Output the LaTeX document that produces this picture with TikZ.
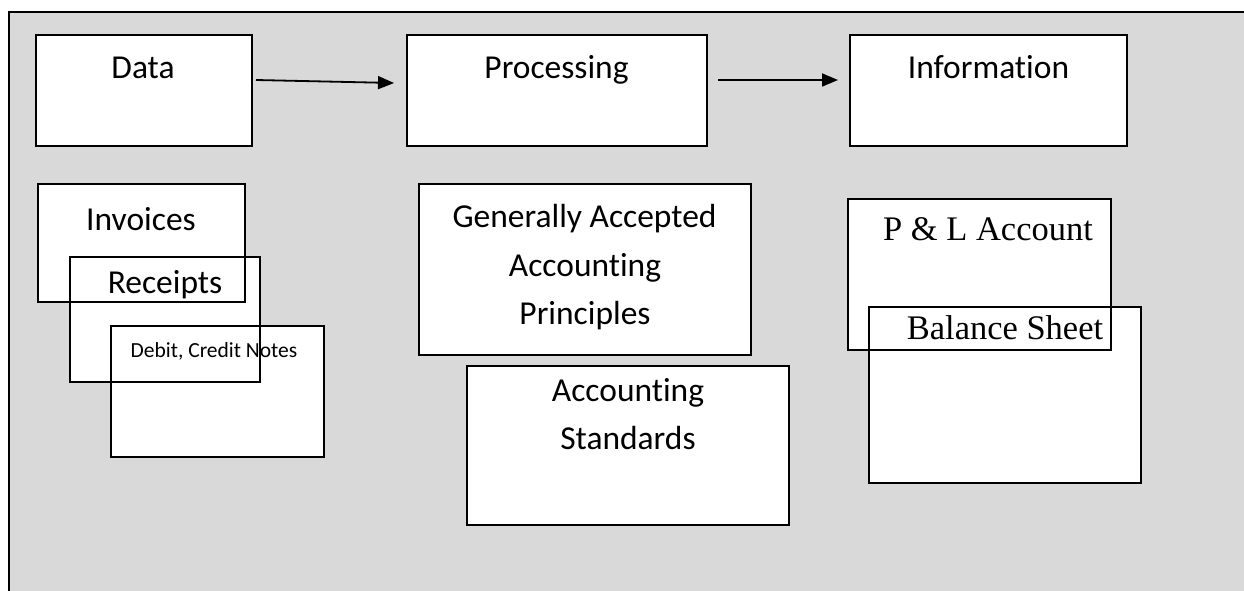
\documentclass[tikz,border=0pt]{standalone}
\usepackage{fontspec}
\setmainfont[RawFeature={-liga;-clig;-calt;-dlig}]{Carlito}
\newfontfamily\timesf{Liberation Serif}
\usetikzlibrary{arrows.meta,calc}
\definecolor{bggray}{HTML}{D9D9D9}
\begin{document}
\begin{tikzpicture}[x=1bp,y=-1bp,
  boxfill/.style={fill=white,inner sep=0pt,outer sep=0pt,anchor=north west},
  boxline/.style={draw=black,line width=1.7bp},
  boxlinedark/.style={draw=black,line width=2bp},
  flow/.style={line width=1.8bp,-{Triangle[length=16bp,width=13bp]}},
  lbl/.style={anchor=base,inner sep=0pt,font=\fontsize{33.6}{41}\selectfont},
  lblsmall/.style={anchor=base,inner sep=0pt,font=\fontsize{21.6}{26}\selectfont},
  lblserif/.style={anchor=base,inner sep=0pt,font=\timesf\fontsize{34.6}{41}\selectfont}]
\useasboundingbox[fill=bggray] (0,0) rectangle (1244,591);
% white margins outside the frame
\fill[white] (0,0) rectangle (1244,12);
\fill[white] (0,0) rectangle (9,591);
% frame
\draw[line width=2bp] (9,591) -- (9,12) -- (1244,12);
% box fills
\node[boxfill,minimum width=216bp,minimum height=111bp] (data) at (36,35) {};
\node[boxfill,minimum width=300bp,minimum height=111bp] (proc) at (407,35) {};
\node[boxfill,minimum width=277bp,minimum height=111bp] (info) at (850,35) {};
\node[boxfill,minimum width=207bp,minimum height=118bp] (inv) at (38,184) {};
\node[boxfill,minimum width=190bp,minimum height=125bp] (rec) at (70,257) {};
\node[boxfill,minimum width=213bp,minimum height=131bp] (deb) at (111,326) {};
\node[boxfill,minimum width=332bp,minimum height=171bp] (gaap) at (419,184) {};
\node[boxfill,minimum width=322bp,minimum height=159bp] (std) at (467,366) {};
\node[boxfill,minimum width=263bp,minimum height=151bp] (pl) at (848,199) {};
\node[boxfill,minimum width=272bp,minimum height=176bp] (bs) at (869,307) {};
% box borders
\foreach \n in {data,proc,info,inv,rec,deb,gaap,std}
  \draw[boxline] (\n.north west) rectangle (\n.south east);
\foreach \n in {pl,bs}
  \draw[boxlinedark] (\n.north west) rectangle (\n.south east);
% texts
\node[lbl] (tdata) at (143,79) {Data};
\node[lbl] (tproc) at (556.5,79) {Processing};
\node[lbl] (tinfo) at (988.5,79) {Information};
\node[lbl] (tinv) at (141,231) {Invoices};
\node[lbl] (trec) at (165,294) {Receipts};
\node[lblsmall] (tdeb) at (214,358) {Debit, Credit Notes};
\node[lbl] (tg1) at (584.5,228) {Generally Accepted};
\node[lbl] (tg2) at (585,277) {Accounting};
\node[lbl] (tg3) at (585,325) {Principles};
\node[lbl] (ts1) at (628,401) {Accounting};
\node[lbl] (ts2) at (628,449) {Standards};
\node[lblserif] (tpl) at (988,241) {P \& L Account};
\node[lblserif] (tbs) at (1005,340) {Balance Sheet};
% arrows
\draw[flow] ($(data.north east)+(4,45)$) -- ($(proc.north west)+(-13,48)$);
\draw[flow] ($(proc.north east)+(11,45)$) -- ($(info.north west)+(-12,45)$);
\end{tikzpicture}
\end{document}
